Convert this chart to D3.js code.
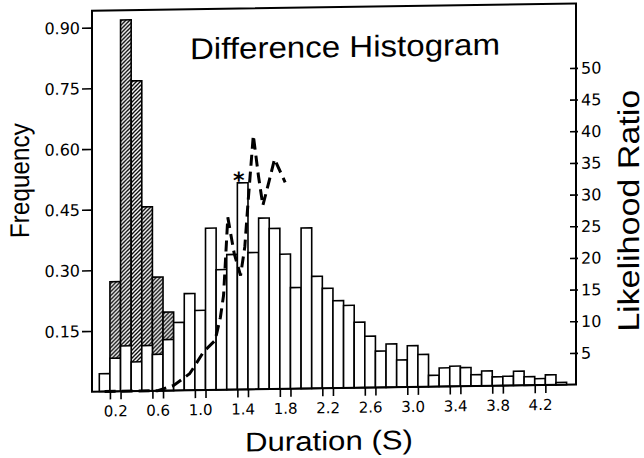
<!DOCTYPE html>
<html><head><meta charset="utf-8">
<script src="https://cdn.jsdelivr.net/npm/d3@7"></script>
<style>body{margin:0;background:#fff}svg{display:block}</style>
</head><body>
<svg id="c" width="644" height="458"></svg>
<script>
// ---- data ----
const durations = [0.1,0.2,0.3,0.4,0.5,0.6,0.7,0.8,0.9,1.0,1.1,1.2,1.3,1.4,1.5,1.6,1.7,1.8,1.9,2.0,2.1,2.2,
  2.3,2.4,2.5,2.6,2.7,2.8,2.9,3.0,3.1,3.2,3.3,3.4,3.5,3.6,3.7,3.8,3.9,4.0,4.1,4.2,4.3,4.4];
const openFreq = [0.044,0.082,0.112,0.072,0.112,0.090,0.126,0.168,0.239,0.197,0.400,0.297,0.334,0.511,0.338,0.423,0.397,0.333,
  0.250,0.397,0.277,0.247,0.216,0.204,0.162,0.127,0.090,0.107,0.067,0.102,0.080,0.028,0.046,0.050,0.046,0.028,0.037,0.022,
  0.023,0.035,0.021,0.016,0.025,0.006];
const hatchDur = [0.2,0.3,0.4,0.5,0.6,0.7];
const hatchFreq = [0.271,0.918,0.767,0.455,0.281,0.194];
const lrDur = [0.10,0.60,0.75,0.90,0.94,1.03,1.14,1.19,1.22,1.26,1.32,1.38,1.42,1.45,1.50,1.55,1.59,1.65,1.70,1.80];
const lrVal = [0,0,0.8,2.6,3.6,6.0,7.8,11.4,14.9,27.2,21.5,18.0,22.5,29.4,40.1,33.5,29.0,32.9,36.3,32.6];
const xTickValues = [0.2,0.6,1.0,1.4,1.8,2.2,2.6,3.0,3.4,3.8,4.2];
const freqTicks = [0.15,0.30,0.45,0.60,0.75,0.90];
const lrTicks = [5,10,15,20,25,30,35,40,45,50];
const starDur = 1.4;
const binW = 0.1;

// ---- layout ----
const svg = d3.select("#c");
const defs = svg.append("defs");
const P = 4;
const pat = defs.append("pattern").attr("id","hatch").attr("patternUnits","userSpaceOnUse")
  .attr("width",P).attr("height",P);
pat.append("rect").attr("width",P).attr("height",P).attr("fill","#fff");
pat.append("path").attr("d",`M-1,1 L1,-1 M0,${P} L${P},0 M${P-1},${P+1} L${P+1},${P-1}`)
  .attr("stroke","#000").attr("stroke-width",1.3);

const g = svg.append("g").attr("transform","skewY(-0.84)");
const L = 92, R = 576, T = 12, B = 393;
const x = d3.scaleLinear().domain([0,4.5]).range([94, 94 + 4.5*106.2]);
const yF = d3.scaleLinear().domain([0,0.9]).range([B,29]);
const yL = d3.scaleLinear().domain([0,50]).range([B,76.3]);

const font = "'DejaVu Sans', sans-serif";
const tfont = "'Liberation Sans', Arial, sans-serif";

// hatched bars
g.selectAll("rect.h").data(hatchDur).join("rect").attr("class","h")
  .attr("x", d => x(d - binW/2)).attr("width", d => x(d + binW/2) - x(d - binW/2))
  .attr("y", (d,i) => yF(hatchFreq[i])).attr("height", (d,i) => B - yF(hatchFreq[i]))
  .attr("fill","url(#hatch)").attr("stroke","#000").attr("stroke-width",1.6);
// open bars
g.selectAll("rect.o").data(durations).join("rect").attr("class","o")
  .attr("x", d => x(d - binW/2)).attr("width", d => x(d + binW/2) - x(d - binW/2))
  .attr("y", (d,i) => yF(openFreq[i])).attr("height", (d,i) => B - yF(openFreq[i]))
  .attr("fill","#fff").attr("stroke","#000").attr("stroke-width",1.6);

// likelihood ratio dashed line
const line = d3.line().x(d => x(d[0])).y(d => yL(d[1]));
g.append("path").datum(lrDur.map((d,i) => [d, lrVal[i]]))
  .attr("d", line).attr("fill","none").attr("stroke","#000")
  .attr("stroke-width",3).attr("stroke-dasharray","11,6");

// asterisk
const si = durations.indexOf(starDur);
g.append("text").attr("x", x(starDur) - 4).attr("y", yF(openFreq[si]) + 5)
  .attr("text-anchor","middle").attr("font-family",font).attr("font-weight","bold")
  .attr("font-size",22).text("*");

// frame
g.append("path").attr("d",`M${L},${T} L${R},${T} L${R},${B} L${L},${B} Z`)
  .attr("fill","none").attr("stroke","#000").attr("stroke-width",2);

// left axis
const ax = g.append("g").attr("transform",`translate(${L},0)`)
  .call(d3.axisLeft(yF).tickValues(freqTicks).tickSize(10).tickPadding(2).tickFormat(d3.format(".2f")));
ax.select(".domain").remove();
ax.selectAll("line").attr("stroke","#000").attr("stroke-width",1.6);
ax.selectAll("text").attr("font-family",font).attr("font-size",16).attr("fill","#000").attr("dy","0.34em");

// right axis
const ar = g.append("g").attr("transform",`translate(${R+2},0)`)
  .call(d3.axisRight(yL).tickValues(lrTicks).tickSizeInner(-8).tickSizeOuter(0).tickPadding(3));
ar.select(".domain").remove();
ar.selectAll("line").attr("stroke","#000").attr("stroke-width",1.6);
ar.selectAll("text").attr("font-family",font).attr("font-size",16).attr("fill","#000").attr("dy","0.34em");

// bottom ticks (pairs at bin edges) and labels
const pairVals = xTickValues.flatMap(v => [v - binW/2, v + binW/2]);
const ab = g.append("g").attr("transform",`translate(0,${B})`)
  .call(d3.axisBottom(x).tickValues(pairVals).tickSize(8).tickFormat(""));
ab.select(".domain").remove();
ab.selectAll("line").attr("stroke","#000").attr("stroke-width",1.6);
const al = g.append("g").attr("transform",`translate(0,${B})`)
  .call(d3.axisBottom(x).tickValues(xTickValues).tickSize(0).tickFormat(d3.format(".1f")));
al.select(".domain").remove();
al.selectAll("text").attr("font-family",font).attr("font-size",15).attr("fill","#000")
  .attr("y",25).attr("dy","0");

// titles
g.append("text").attr("x",190).attr("y",62).attr("font-family",tfont).attr("font-size",30)
  .attr("textLength",310).attr("lengthAdjust","spacingAndGlyphs").text("Difference Histogram");
g.append("text").attr("transform","translate(29,181) rotate(-90)").attr("text-anchor","middle")
  .attr("font-family",tfont).attr("font-size",27).attr("textLength",115).attr("lengthAdjust","spacingAndGlyphs")
  .text("Frequency");
g.append("text").attr("transform","translate(639,220) rotate(-90)").attr("text-anchor","middle")
  .attr("font-family",tfont).attr("font-size",30).attr("textLength",242).attr("lengthAdjust","spacingAndGlyphs")
  .text("Likelihood Ratio");
g.append("text").attr("x",329).attr("y",455).attr("text-anchor","middle")
  .attr("font-family",tfont).attr("font-size",27).attr("textLength",168).attr("lengthAdjust","spacingAndGlyphs")
  .text("Duration (S)");
</script>
</body></html>
